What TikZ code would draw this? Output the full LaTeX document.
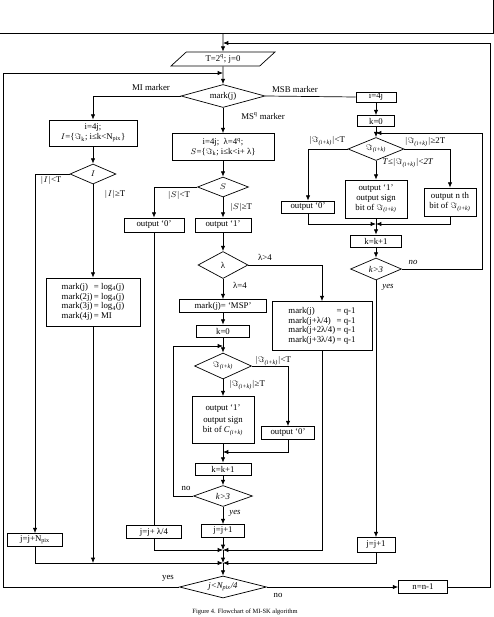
\documentclass[tikz,border=0pt]{standalone}
\usepackage{fontspec}
\setmainfont{Liberation Serif}
\usetikzlibrary{arrows.meta,shapes.geometric}
\newcommand{\fs}{\fontsize{7.5}{8.5}\selectfont}
\newcommand{\Imik}{$\Im$\textsubscript{\textit{(i+k)}}}
\tikzset{
  box/.style={draw,line width=0.6pt,inner sep=1pt,align=center,font=\fs},
  dia/.style={draw,diamond,line width=0.6pt,inner sep=0pt,font=\fs},
  io/.style={draw,trapezium,trapezium left angle=35,trapezium right angle=145,trapezium stretches body,line width=0.6pt,inner sep=1pt,font=\fs},
  flow/.style={-{Latex[length=1.6mm,width=1.3mm]},line width=0.6pt},
  wire/.style={line width=0.6pt},
  lbl/.style={font=\fs,inner sep=0pt}}

\begin{document}
\begin{tikzpicture}[x=0.3mm,y=-0.3mm]
  \useasboundingbox (0,0) rectangle (494,617);
  \node[draw,line width=0.6pt,minimum width=149.4mm,minimum height=25.8mm] (prev) at (244,-10) {};
  \node[io,minimum width=31.2mm,minimum height=4.2mm] (tq) at (223,59) {T=2\textsuperscript{q}; j=0};
  \node[dia,aspect=3.6,minimum width=25.2mm,minimum height=6.9mm] (mj) at (223,96) {mark(j)};
  % left branch
  \node[box,minimum width=26.4mm,minimum height=7.8mm] (miset) at (93,133) {i=4j;\\$I$=\{$\Im$\textsubscript{k}; i≤k<N\textsubscript{pix}\}};
  \node[dia,aspect=2.3,minimum width=13.8mm,minimum height=6mm] (dI) at (93,174) {$I$};
  \node[box,minimum width=28.2mm,minimum height=14.4mm] (mlog) at (93,302) {\begin{tabular}{@{}l@{\,}l@{}}mark(j) &= log\textsubscript{4}(j)\\mark(2j) &= log\textsubscript{4}(j)\\mark(3j) &= log\textsubscript{4}(j)\\mark(4j) &= MI\end{tabular}};
  \node[box,minimum width=16.5mm,minimum height=3.9mm] (jnp) at (35,540) {j=j+N\textsubscript{pix}};
  % middle branch
  \node[box,minimum width=30.6mm,minimum height=8.1mm] (msset) at (223,147) {i=4j;\enspace λ=4\textsuperscript{q};\\$S$=\{$\Im$\textsubscript{k}; i≤k<i+ λ\}};
  \node[dia,aspect=2.5,minimum width=15.3mm,minimum height=6mm] (dS) at (223,187) {$S$};
  \node[box,minimum width=18mm,minimum height=4.2mm] (oSz) at (154,225) {output `0'};
  \node[box,minimum width=16.8mm,minimum height=4.2mm] (oSo) at (223,225) {output `1'};
  \node[dia,aspect=1.9,minimum width=15mm,minimum height=8.1mm] (dlam) at (223,265) {λ};
  \node[box,minimum width=26.1mm,minimum height=3.9mm] (msp) at (223,306) {mark(j)= `MSP'};
  \node[box,minimum width=15.9mm,minimum height=3.6mm] (kza) at (223,331) {k=0};
  \node[dia,aspect=2.2,minimum width=17.1mm,minimum height=7.8mm] (dIma) at (223,366) {\Imik};
  \node[box,minimum width=18.6mm,minimum height=14.1mm] (osga) at (223,420) {output `1'\\[2pt]output sign\\bit of \textit{C}\textsubscript{\textit{(i+k)}}};
  \node[box,minimum width=15.9mm,minimum height=3.9mm] (ozb) at (288,433) {output `0'};
  \node[box,minimum width=16.8mm,minimum height=3.6mm] (kpa) at (223,469) {k=k+1};
  \node[dia,aspect=2.8,minimum width=17.7mm,minimum height=6.3mm] (dka) at (223,496) {\textit{k>3}};
  \node[box,minimum width=12.9mm,minimum height=3.9mm] (jpa) at (223,531) {j=j+1};
  \node[box,minimum width=16.5mm,minimum height=3.9mm] (jla) at (154,532) {j=j+ λ/4};
  \node[box,minimum width=30mm,minimum height=14.7mm] (mq) at (322,326) {\begin{tabular}{@{}l@{\,}l@{}}mark(j) &= q-1\\mark(j+λ/4) &= q-1\\mark(j+2λ/4) &= q-1\\mark(j+3λ/4) &= q-1\end{tabular}};
  \node[dia,aspect=4,minimum width=26.1mm,minimum height=6.6mm] (dN) at (223,587) {\textit{j<N\textsubscript{pix}/4}};
  \node[box,minimum width=14.7mm,minimum height=3.9mm] (nn) at (423,587) {n=n-1};
  % right branch
  \node[box,minimum width=12mm,minimum height=3mm] (mb) at (376,97) {i=4j};
  \node[box,minimum width=11.1mm,minimum height=3.3mm] (kzb) at (376,121) {k=0};
  \node[dia,aspect=2.4,minimum width=16.8mm,minimum height=6.9mm] (dImb) at (376,149) {\Imik};
  \node[box,minimum width=15.9mm,minimum height=3.6mm] (ozc) at (308,207) {output `0'};
  \node[box,minimum width=18.6mm,minimum height=11.4mm] (osgb) at (376,199) {output `1'\\output sign\\bit of \Imik};
  \node[box,minimum width=15.6mm,minimum height=8.4mm] (onth) at (450,202) {output n th\\bit of \Imik};
  \node[box,minimum width=15.3mm,minimum height=3.6mm] (kpb) at (376,241) {k=k+1};
  \node[dia,aspect=2.3,minimum width=15.3mm,minimum height=6.6mm] (dkb) at (376,269) {\textit{k>3}};
  \node[box,minimum width=11.4mm,minimum height=4.5mm] (jpb) at (376,545) {j=j+1};
  % bends and joins
  \coordinate (rtop) at (490,43);
  \coordinate (intop) at (223,43);
  \coordinate (ltop) at (3,73);
  \coordinate (inl) at (223,73);
  \coordinate (mloop) at (173,346);
  \coordinate (minl) at (223,346);
  \coordinate (rloop) at (482,133);
  \coordinate (rinl) at (376,133);
  \coordinate (mr) at (376,224);
  \coordinate (mm) at (223,452);
  \coordinate (mb1) at (223,550);
  \coordinate (mb2) at (223,563);
  % connectors
  \draw[flow] (prev.south-|tq) -- (tq);
  \draw[flow] (tq) -- (mj);
  \draw[flow] (nn.east) -| (rtop) -- (intop);
  \draw[flow] (dN.west) -| (ltop) -- (inl);
  \draw[flow] (mj.west) -| (miset.north);
  \draw[flow] (miset) -- (dI);
  \draw[flow] (dI.west) -| (jnp.north);
  \draw[flow] (dI) -- (mlog);
  \draw[flow] (mj) -- (msset);
  \draw[flow] (msset) -- (dS);
  \draw[flow] (dS.west) -| (oSz.north);
  \draw[flow] (dS) -- (oSo);
  \draw[flow] (oSo) -- (dlam);
  \draw[flow] (dlam.east) -| (mq.north);
  \draw[flow] (dlam) -- (msp);
  \draw[flow] (msp) -- (kza);
  \draw[flow] (kza) -- (dIma);
  \draw[flow] (dka.west) -| (mloop) -- (minl);
  \draw[flow] (dIma.east) -| (ozb.north);
  \draw[flow] (dIma) -- (osga);
  \draw[flow] (ozb.south) |- (mm);
  \draw[flow] (osga) -- (kpa);
  \draw[flow] (kpa) -- (dka);
  \draw[flow] (dka) -- (jpa);
  \draw[wire] (oSz) -- (jla);
  \draw[flow] (jla.south) |- (mb1);
  \draw[flow] (mq.south) |- (mb1);
  \draw[flow] (jpa) -- (mb1);
  \draw[flow] (mb1) -- (mb2);
  \draw[flow] (jnp.south) |- (mb2);
  \draw[flow] (mlog.south) -- (mlog.south|-mb2);
  \draw[flow] (jpb.south) |- (mb2);
  \draw[flow] (mb2) -- (dN);
  \draw[flow] (dN) -- (nn);
  \draw[wire] (mj.east) -- (mb.west);
  \draw[flow] (mb) -- (kzb);
  \draw[flow] (kzb) -- (dImb);
  \draw[flow] (dkb.east) -| (rloop) -- (rinl);
  \draw[flow] (dImb.west) -| (ozc.north);
  \draw[flow] (dImb.east) -| (onth.north);
  \draw[flow] (dImb) -- (osgb);
  \draw[flow] (ozc.south) |- (mr);
  \draw[flow] (onth.south) |- (mr);
  \draw[flow] (osgb) -- (kpb);
  \draw[flow] (kpb) -- (dkb);
  \draw[flow] (dkb) -- (jpb);
  % labels
  \node[lbl] (lmi) at (151,87) {MI marker};
  \node[lbl] (lmsb) at (295,89) {MSB marker};
  \node[lbl] (lmsq) at (263,116) {MS\textsuperscript{q} marker};
  \node[lbl] (lIlt) at (51,180) {$|I|$<T};
  \node[lbl] (lIge) at (115,194) {$|I|$≥T};
  \node[lbl] (lSlt) at (179,195) {$|S|$<T};
  \node[lbl] (lSge) at (241,207) {$|S|$≥T};
  \node[lbl] (llgt) at (265,257) {λ>4};
  \node[lbl] (lleq) at (240,285) {λ=4};
  \node[lbl] (lalt) at (273,361) {$|$\Imik$|$<T};
  \node[lbl] (lage) at (247,385) {$|$\Imik$|$≥T};
  \node[lbl] (lano) at (186,488) {no};
  \node[lbl,font=\fs\itshape] (layes) at (235,513) {yes};
  \node[lbl] (lnyes) at (168,578) {yes};
  \node[lbl] (lnno) at (278,595) {no};
  \node[lbl] (lblt) at (327,141) {$|$\Imik$|$<T};
  \node[lbl] (lbge) at (425,142) {$|$\Imik$|$≥2T};
  \node[lbl] (lbmid) at (408,163) {\textit{T}≤$|$\Imik$|$<\textit{2T}};
  \node[lbl,font=\fs\itshape] (lbno) at (413,262) {no};
  \node[lbl,font=\fs\itshape] (lbyes) at (388,287) {yes};
  \node[font=\fontsize{5.5}{6}\selectfont] (cap) at (245,612) {Figure 4. Flowchart of MI-SK algorithm};
\end{tikzpicture}
\end{document}
